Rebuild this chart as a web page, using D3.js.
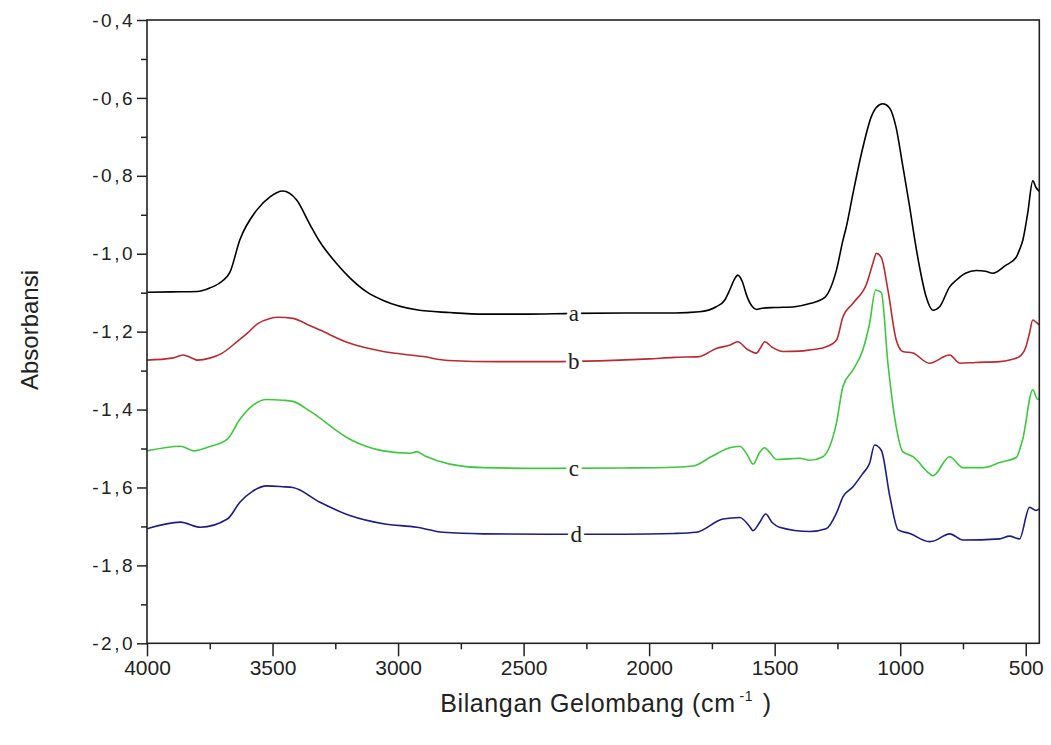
<!DOCTYPE html>
<html>
<head>
<meta charset="utf-8">
<script src="https://cdn.jsdelivr.net/npm/d3@7/dist/d3.min.js"></script>
<style>
  html, body { margin: 0; padding: 0; background: #ffffff; }
  svg { display: block; }
</style>
</head>
<body>
<svg id="chart" width="1051" height="745"></svg>
<script>
// FTIR spectra: wavenumber (cm-1) and absorbance for samples a–d
const waveA = [4000,3900,3800,3750,3700,3670,3630,3563,3510,3460,3404,3351,3311,3245,3192,3125,3059,2926,2794,2661,2500,2300,2100,1900,1800,1733,1700,1679,1660,1647,1630,1610,1590,1573,1550,1500,1420,1360,1300,1281,1254,1228,1215,1188,1149,1115,1096,1069,1043,1016,991,962,944,923,897,870,843,803,777,740,697,660,631,580,538,525,512,492,472,459,446];
const absA  = [-1.099,-1.098,-1.097,-1.088,-1.07,-1.048,-0.964,-0.888,-0.854,-0.839,-0.862,-0.925,-0.97,-1.025,-1.062,-1.098,-1.12,-1.144,-1.151,-1.155,-1.155,-1.153,-1.152,-1.152,-1.149,-1.136,-1.12,-1.093,-1.065,-1.055,-1.07,-1.11,-1.135,-1.143,-1.14,-1.138,-1.136,-1.128,-1.112,-1.093,-1.042,-0.965,-0.932,-0.845,-0.728,-0.648,-0.625,-0.615,-0.625,-0.677,-0.77,-0.881,-0.956,-1.034,-1.11,-1.145,-1.136,-1.085,-1.068,-1.05,-1.043,-1.045,-1.05,-1.03,-1.009,-0.99,-0.966,-0.895,-0.813,-0.83,-0.84];

const waveB = [4000,3900,3857,3820,3800,3750,3700,3640,3600,3560,3510,3480,3419,3350,3311,3192,3059,2900,2800,2600,2400,2200,2000,1900,1800,1733,1680,1647,1610,1573,1555,1540,1510,1467,1400,1360,1300,1254,1228,1188,1133,1109,1095,1075,1049,1016,990,949,884,803,763,700,604,560,525,500,485,472,460,446];
const absB  = [-1.273,-1.268,-1.26,-1.268,-1.273,-1.268,-1.255,-1.225,-1.204,-1.18,-1.166,-1.163,-1.166,-1.185,-1.196,-1.23,-1.251,-1.264,-1.274,-1.277,-1.277,-1.275,-1.27,-1.266,-1.264,-1.243,-1.235,-1.226,-1.245,-1.255,-1.24,-1.226,-1.24,-1.251,-1.25,-1.247,-1.24,-1.222,-1.162,-1.127,-1.076,-1.025,-0.999,-1.01,-1.093,-1.221,-1.251,-1.255,-1.281,-1.26,-1.281,-1.279,-1.277,-1.272,-1.264,-1.24,-1.204,-1.17,-1.175,-1.183];

const waveC = [4000,3867,3813,3750,3680,3630,3580,3523,3460,3419,3351,3192,3059,2950,2926,2890,2794,2661,2400,2100,1900,1825,1750,1679,1639,1610,1586,1560,1540,1520,1493,1400,1360,1308,1281,1254,1228,1188,1149,1122,1098,1075,1049,1016,990,949,884,870,803,750,671,600,538,512,472,453,446];
const absC  = [-1.506,-1.494,-1.506,-1.495,-1.476,-1.425,-1.39,-1.374,-1.376,-1.379,-1.404,-1.476,-1.506,-1.512,-1.508,-1.52,-1.54,-1.549,-1.551,-1.55,-1.548,-1.545,-1.52,-1.498,-1.494,-1.515,-1.54,-1.51,-1.498,-1.51,-1.528,-1.525,-1.53,-1.521,-1.495,-1.435,-1.341,-1.298,-1.247,-1.179,-1.093,-1.1,-1.281,-1.444,-1.508,-1.521,-1.564,-1.57,-1.521,-1.549,-1.549,-1.535,-1.523,-1.476,-1.349,-1.374,-1.37];

const waveD = [4000,3867,3787,3680,3630,3580,3523,3460,3419,3311,3192,3059,2926,2820,2661,2400,2100,1900,1813,1706,1639,1600,1586,1560,1536,1510,1481,1360,1295,1254,1228,1188,1149,1122,1102,1075,1041,1008,962,884,870,803,750,604,565,525,485,459,446];
const absD  = [-1.706,-1.689,-1.702,-1.681,-1.638,-1.61,-1.596,-1.598,-1.6,-1.638,-1.672,-1.693,-1.702,-1.715,-1.719,-1.72,-1.72,-1.718,-1.715,-1.681,-1.677,-1.7,-1.711,-1.69,-1.668,-1.69,-1.702,-1.713,-1.706,-1.666,-1.624,-1.598,-1.564,-1.538,-1.491,-1.505,-1.624,-1.709,-1.718,-1.739,-1.738,-1.719,-1.735,-1.732,-1.725,-1.732,-1.651,-1.659,-1.655];

const seriesNames  = ["a", "b", "c", "d"];
const seriesColors = ["#000000", "#bb2a2e", "#3dc83d", "#1c1c86"];
const labelWave    = [2300, 2300, 2300, 2290];

const yTicksMajor = [-2.0, -1.8, -1.6, -1.4, -1.2, -1.0, -0.8, -0.6, -0.4];
const yTicksMinor = [-1.9, -1.7, -1.5, -1.3, -1.1, -0.9, -0.7, -0.5];
const xTicksMajor = [4000, 3500, 3000, 2500, 2000, 1500, 1000, 500];
const xTicksMinor = [3750, 3250, 2750, 2250, 1750, 1250, 750];

const svg = d3.select("#chart");
const margin = { top: 20, right: 11.7, bottom: 101.7, left: 147 };
const W = 1051, H = 745;

const x = d3.scaleLinear().domain([4000, 446]).range([margin.left, W - margin.right]);
const y = d3.scaleLinear().domain([-2.0, -0.4]).range([H - margin.bottom, margin.top]);

// comma decimal separator and a plain hyphen for the sign
const fmtY = v => d3.format(".1f")(v).replace(".", ",").replace("\u2212", "-");

// spectra
const series = [
  { w: waveA, a: absA },
  { w: waveB, a: absB },
  { w: waveC, a: absC },
  { w: waveD, a: absD }
];

const line = d3.line()
  .x(d => x(d[0]))
  .y(d => y(d[1]))
  .curve(d3.curveMonotoneX);

const plot = svg.append("g");
series.forEach((s, i) => {
  const pts = s.w.map((w, k) => [w, s.a[k]]).sort((p, q) => p[0] - q[0]);
  plot.append("path")
    .datum(pts)
    .attr("fill", "none")
    .attr("stroke", seriesColors[i])
    .attr("stroke-width", 1.6)
    .attr("stroke-linejoin", "round")
    .attr("d", line);

  // inline series label sitting on its curve
  const yv = d3.scaleLinear().domain(s.w).range(s.a)(labelWave[i]);
  plot.append("text")
    .attr("x", x(labelWave[i]))
    .attr("y", y(yv))
    .attr("dy", "0.32em")
    .attr("text-anchor", "middle")
    .attr("font-family", "'Liberation Serif', 'DejaVu Serif', serif")
    .attr("font-size", 23)
    .attr("fill", "#222")
    .attr("stroke", "#ffffff")
    .attr("stroke-width", 7)
    .attr("paint-order", "stroke")
    .text(seriesNames[i]);
});

// frame
svg.append("rect")
  .attr("x", margin.left)
  .attr("y", margin.top)
  .attr("width", W - margin.right - margin.left)
  .attr("height", H - margin.bottom - margin.top)
  .attr("fill", "none")
  .attr("stroke", "#222")
  .attr("stroke-width", 1.6);

// y axis
const yAxis = svg.append("g").attr("transform", `translate(${margin.left},0)`);
yAxis.call(d3.axisLeft(y).tickValues(yTicksMajor).tickSize(10).tickFormat(fmtY))
  .call(g => g.select(".domain").remove())
  .call(g => g.selectAll("line").attr("stroke", "#222").attr("stroke-width", 1.5))
  .call(g => g.selectAll("text")
    .attr("font-family", "'Liberation Sans', Arial, sans-serif")
    .attr("font-size", 19)
    .attr("letter-spacing", "2.5px")
    .attr("fill", "#222")
    .attr("x", -12));
yAxis.append("g")
  .call(d3.axisLeft(y).tickValues(yTicksMinor).tickSize(6).tickFormat(""))
  .call(g => g.select(".domain").remove())
  .call(g => g.selectAll("line").attr("stroke", "#222").attr("stroke-width", 1.5));

// x axis
const xAxis = svg.append("g").attr("transform", `translate(0,${H - margin.bottom})`);
xAxis.call(d3.axisBottom(x).tickValues(xTicksMajor).tickSize(13).tickFormat(d3.format("d")))
  .call(g => g.select(".domain").remove())
  .call(g => g.selectAll("line").attr("stroke", "#222").attr("stroke-width", 1.5))
  .call(g => g.selectAll("text")
    .attr("font-family", "'Liberation Sans', Arial, sans-serif")
    .attr("font-size", 21)
    .attr("fill", "#222")
    .attr("y", 17));
xAxis.append("g")
  .call(d3.axisBottom(x).tickValues(xTicksMinor).tickSize(6).tickFormat(""))
  .call(g => g.select(".domain").remove())
  .call(g => g.selectAll("line").attr("stroke", "#222").attr("stroke-width", 1.5));

// axis titles
svg.append("text")
  .attr("transform", `translate(38,330) rotate(-90)`)
  .attr("text-anchor", "middle")
  .attr("font-family", "'Liberation Sans', Arial, sans-serif")
  .attr("font-size", 24)
  .attr("fill", "#222")
  .text("Absorbansi");

const xTitle = svg.append("text")
  .attr("x", 606)
  .attr("y", 712)
  .attr("text-anchor", "middle")
  .attr("font-family", "'Liberation Sans', Arial, sans-serif")
  .attr("font-size", 25)
  .attr("letter-spacing", "0.6px")
  .attr("fill", "#222");
xTitle.append("tspan").text("Bilangan Gelombang (cm");
xTitle.append("tspan").attr("dy", -11).attr("font-size", 14).attr("dx", 4).text("-1");
xTitle.append("tspan").attr("dy", 11).attr("dx", 2).text(" )");
</script>
</body>
</html>
